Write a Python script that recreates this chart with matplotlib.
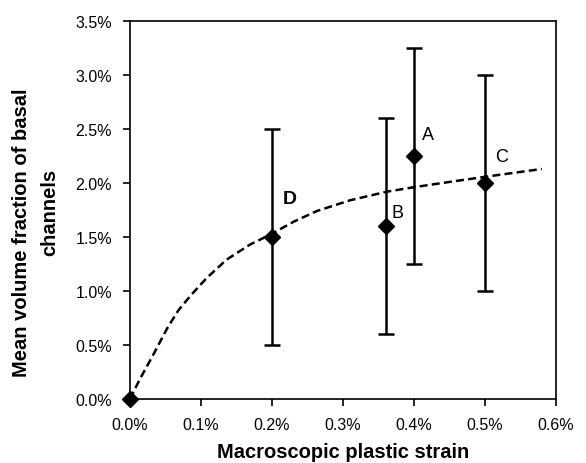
import numpy as np
import matplotlib.pyplot as plt
from matplotlib.ticker import FuncFormatter

plt.rcParams['font.family'] = ['Liberation Sans', 'DejaVu Sans']

# measured points with error bars
strain = [0.0, 0.2, 0.36, 0.40, 0.50]
frac = [0.0, 1.5, 1.6, 2.25, 2.0]
err = [0.0, 1.0, 1.0, 1.0, 1.0]

# point labels and where they sit
pt_labels = ['D', 'B', 'A', 'C']
lab_x = [0.225, 0.377, 0.42, 0.524]
lab_y = [1.86, 1.73, 2.45, 2.25]

# dashed trend curve
curve_x = [0.0, 0.014, 0.032, 0.052, 0.068, 0.087, 0.108, 0.136, 0.169, 0.20,
           0.23, 0.263, 0.31, 0.362, 0.399, 0.45, 0.503, 0.58]
curve_y = [0.0, 0.185, 0.40, 0.65, 0.82, 0.97, 1.12, 1.29, 1.43, 1.53,
           1.64, 1.74, 1.84, 1.92, 1.96, 2.01, 2.06, 2.13]

fig = plt.figure(figsize=(5.86, 4.64), dpi=100)
ax = fig.add_axes([0.2218, 0.1379, 0.727, 0.8147])

ax.plot(curve_x, curve_y, 'k--', lw=1.8, dashes=(3.2, 1.7))
ax.errorbar(strain[1:], frac[1:], yerr=err[1:], fmt='none', ecolor='k',
            elinewidth=1.8, capsize=5.5, capthick=1.8)
ax.plot(strain, frac, 'kD', ms=8.5, clip_on=False, zorder=5)

for i, t in enumerate(pt_labels):
    if t == 'D':
        ax.text(lab_x[i], lab_y[i], t, fontsize=14, fontweight='bold', va='center', ha='center')
    else:
        ax.text(lab_x[i], lab_y[i], t, fontsize=13, va='center', ha='center')

ax.set_xlim(0, 0.6)
ax.set_ylim(0, 3.5)
ax.set_xticks(np.arange(0, 0.61, 0.1))
ax.set_yticks(np.arange(0, 3.51, 0.5))
ax.xaxis.set_major_formatter(FuncFormatter(lambda v, p: '%.1f%%' % v))
ax.yaxis.set_major_formatter(FuncFormatter(lambda v, p: '%.1f%%' % v))
ax.tick_params(direction='out', length=5, width=1.2, labelsize=11.5)
ax.tick_params(axis='x', pad=8)
ax.tick_params(axis='y', pad=8)
for s in ax.spines.values():
    s.set_linewidth(1.2)

# axis titles
fig.text(343 / 586, 1 - 453 / 464, 'Macroscopic plastic strain',
         fontsize=14.5, fontweight='bold', ha='center', va='center')
fig.text(22 / 586, 1 - 233 / 464, 'Mean volume fraction of basal', rotation=90,
         fontsize=14.5, fontweight='bold', ha='center', va='center')
fig.text(50 / 586, 1 - 212 / 464, 'channels', rotation=90,
         fontsize=14.5, fontweight='bold', ha='center', va='center')

fig.savefig('out.png', dpi=100)
